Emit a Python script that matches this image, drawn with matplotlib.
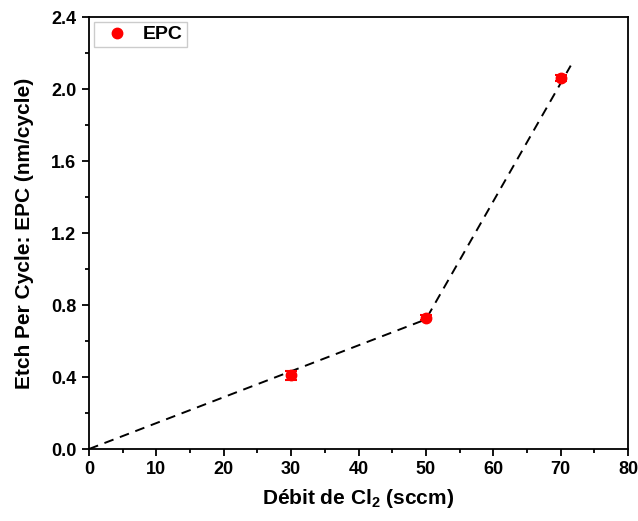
import matplotlib
matplotlib.use("Agg")
import matplotlib.pyplot as plt
from matplotlib.ticker import MultipleLocator, FormatStrFormatter
from matplotlib.lines import Line2D

plt.rcParams['font.family'] = ['Liberation Sans', 'DejaVu Sans']
plt.rcParams['font.weight'] = 'bold'
plt.rcParams['mathtext.fontset'] = 'custom'
plt.rcParams['mathtext.bf'] = 'Liberation Sans:bold'
plt.rcParams['mathtext.rm'] = 'Liberation Sans:bold'

# Measured etch per cycle vs Cl2 flow
flow = [30, 50, 70]
epc = [0.41, 0.73, 2.06]
epc_err = [0.025, 0.015, 0.015]

# Guide-to-the-eye dashed trend
trend_x = [0, 50, 71.5]
trend_y = [0, 0.72, 2.13]

fig = plt.figure(figsize=(6.38, 5.21), dpi=100)
ax = fig.add_axes([89/638, 1-449/521, (628-89)/638, (449-17)/521])

ax.plot(trend_x, trend_y, ls=(0, (5, 3.5)), color='black', lw=1.4, zorder=2)
ax.errorbar(flow, epc, yerr=epc_err, fmt='o', color='red', ms=7.5,
            ecolor='red', elinewidth=1.5, capsize=4, capthick=1.5, zorder=3)

ax.set_xlim(0, 80)
ax.set_ylim(0, 2.4)
ax.xaxis.set_major_locator(MultipleLocator(10))
ax.xaxis.set_minor_locator(MultipleLocator(5))
ax.yaxis.set_major_locator(MultipleLocator(0.4))
ax.yaxis.set_minor_locator(MultipleLocator(0.2))
ax.yaxis.set_major_formatter(FormatStrFormatter('%.1f'))
ax.tick_params(which='major', direction='out', length=5, width=1.3,
               labelsize=13, pad=4)
ax.tick_params(which='minor', direction='out', length=3, width=1.3)
for sp in ax.spines.values():
    sp.set_linewidth(1.3)

ax.set_xlabel('Débit de Cl$_\\mathrm{2}$ (sccm)', fontsize=15,
              fontweight='bold', labelpad=6)
ax.set_ylabel('Etch Per Cycle: EPC (nm/cycle)', fontsize=15,
              fontweight='bold', labelpad=12)

proxy = Line2D([], [], ls='none', marker='o', color='red', ms=7.5)
leg = ax.legend([proxy], ['EPC'], loc='upper left', fontsize=14, frameon=True,
                fancybox=False, edgecolor='#c0c0c0', borderaxespad=0.25,
                handletextpad=0.36, borderpad=0.2, handlelength=1.97)
leg.get_frame().set_linewidth(1.0)

fig.savefig('out.png', dpi=100)
